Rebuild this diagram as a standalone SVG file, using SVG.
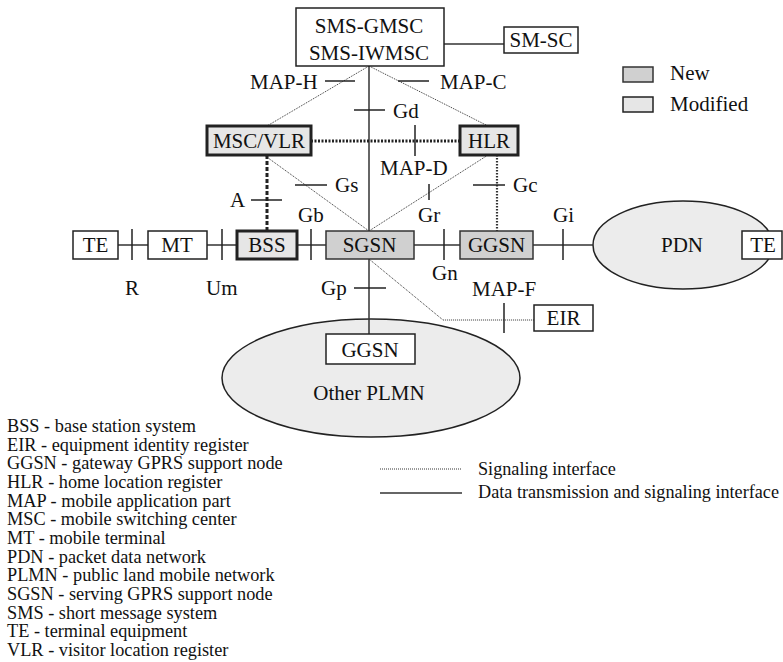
<svg xmlns="http://www.w3.org/2000/svg" width="783" height="662" viewBox="0 0 783 662" font-family="'Liberation Serif', 'Times New Roman', Times, serif">
  <style>
    text { font-family: 'Liberation Serif', 'Times New Roman', Times, serif; fill: #111; }
    .lbl { font-size: 21px; }
    .mid { text-anchor: middle; }
    .leg { font-size: 18.3px; }
    .legr { font-size: 18.2px; }
    .box { fill: #fff; stroke: #222; stroke-width: 1.5; }
    .new { fill: #d0d0d0; stroke: #333; stroke-width: 1.5; }
    .mod { fill: #e6e6e6; stroke: #222; stroke-width: 3; }
    .net { fill: #ececec; stroke: #222; stroke-width: 1.5; }
    .data { stroke: #333; stroke-width: 1.5; fill: none; }
    .sig { stroke: #333; stroke-width: 1; stroke-dasharray: 1 1; fill: none; }
    .sigb { stroke: #222; stroke-width: 3; stroke-dasharray: 2 1.5; fill: none; }
    .sigm { stroke: #333; stroke-width: 2.2; stroke-dasharray: 1.5 1.5; fill: none; }
    .dash { stroke: #222; stroke-width: 3; stroke-dasharray: 4 2; fill: none; }
    .tick { stroke: #222; stroke-width: 1.5; }
  </style>

  <!-- network clouds -->
  <g id="other-plmn">
    <ellipse class="net" cx="371" cy="378" rx="149" ry="59"/>
    <text class="lbl mid" x="369" y="400" font-family="Liberation Serif">Other PLMN</text>
  </g>
  <g id="pdn">
    <ellipse class="net" cx="683" cy="245" rx="90" ry="44"/>
    <text class="lbl mid" x="682" y="252" font-family="Liberation Serif">PDN</text>
  </g>

  <!-- interfaces -->
  <g id="connectors">
    <!-- data transmission and signaling -->
    <line class="data" x1="444" y1="44" x2="504" y2="44"/>
    <line class="data" x1="369" y1="66" x2="369" y2="231"/>
    <line class="data" x1="369" y1="259" x2="369" y2="334"/>
    <line class="data" x1="118" y1="245" x2="148" y2="245"/>
    <line class="data" x1="207" y1="245" x2="237" y2="245"/>
    <line class="data" x1="297" y1="245" x2="326" y2="245"/>
    <line class="data" x1="414" y1="245" x2="460" y2="245"/>
    <line class="data" x1="533" y1="245" x2="593" y2="245"/>
    <!-- signaling only -->
    <line class="sig" x1="369" y1="66" x2="267" y2="126"/>
    <line class="sig" x1="369" y1="66" x2="488" y2="126"/>
    <line class="sig" x1="264" y1="155" x2="369" y2="231"/>
    <line class="sig" x1="369" y1="231" x2="488" y2="155"/>
    <polyline class="sig" points="369,259 443,320 534,320"/>
    <line class="sigb" x1="311" y1="141" x2="460" y2="141"/>
    <line class="dash" x1="267" y1="155" x2="267" y2="231"/>
    <line class="sigm" x1="497" y1="155" x2="497" y2="231"/>

    <!-- interface ticks -->
    <line class="tick" x1="325" y1="81" x2="355" y2="81"/>
    <line class="tick" x1="398" y1="81" x2="429" y2="81"/>
    <line class="tick" x1="354" y1="110" x2="385" y2="110"/>
    <line class="tick" x1="415" y1="125" x2="415" y2="156"/>
    <line class="tick" x1="295" y1="185" x2="327" y2="185"/>
    <line class="tick" x1="251" y1="200" x2="282" y2="200"/>
    <line class="tick" x1="429" y1="184" x2="429" y2="200"/>
    <line class="tick" x1="473" y1="185" x2="505" y2="185"/>
    <line class="tick" x1="132" y1="229" x2="132" y2="260"/>
    <line class="tick" x1="222" y1="229" x2="222" y2="260"/>
    <line class="tick" x1="311" y1="229" x2="311" y2="260"/>
    <line class="tick" x1="444" y1="229" x2="444" y2="260"/>
    <line class="tick" x1="563" y1="229" x2="563" y2="260"/>
    <line class="tick" x1="354" y1="288" x2="386" y2="288"/>
    <line class="tick" x1="504" y1="303" x2="504" y2="333"/>

    <!-- interface names -->
    <text class="lbl" x="250" y="89">MAP-H</text>
    <text class="lbl" x="440" y="89">MAP-C</text>
    <text class="lbl" x="393" y="118">Gd</text>
    <text class="lbl" x="380" y="175">MAP-D</text>
    <text class="lbl" x="335" y="192">Gs</text>
    <text class="lbl" x="513" y="192">Gc</text>
    <text class="lbl" x="230" y="207">A</text>
    <text class="lbl" x="298" y="222">Gb</text>
    <text class="lbl" x="418" y="222">Gr</text>
    <text class="lbl" x="553" y="222">Gi</text>
    <text class="lbl" x="432" y="280">Gn</text>
    <text class="lbl" x="125" y="295">R</text>
    <text class="lbl" x="206" y="295">Um</text>
    <text class="lbl" x="321" y="295">Gp</text>
    <text class="lbl" x="472" y="296">MAP-F</text>
  </g>

  <!-- network elements -->
  <g id="sms-gmsc">
    <rect class="box" x="296" y="8" width="148" height="58"/>
    <text class="lbl mid" x="369" y="33">SMS-GMSC</text>
    <text class="lbl mid" x="369" y="60">SMS-IWMSC</text>
  </g>
  <g id="sm-sc">
    <rect class="box" x="504" y="27" width="74" height="26"/>
    <text class="lbl mid" x="541" y="47">SM-SC</text>
  </g>
  <g id="msc-vlr">
    <rect class="mod" x="207" y="126" width="104" height="29"/>
    <text class="lbl mid" x="259" y="148">MSC/VLR</text>
  </g>
  <g id="hlr">
    <rect class="mod" x="460" y="126" width="58" height="29"/>
    <text class="lbl mid" x="489" y="148">HLR</text>
  </g>
  <g id="te-left">
    <rect class="box" x="73" y="231" width="45" height="28"/>
    <text class="lbl mid" x="95.5" y="252">TE</text>
  </g>
  <g id="mt">
    <rect class="box" x="148" y="231" width="59" height="28"/>
    <text class="lbl mid" x="177" y="252">MT</text>
  </g>
  <g id="bss">
    <rect class="mod" x="237" y="231" width="60" height="28"/>
    <text class="lbl mid" x="267" y="252">BSS</text>
  </g>
  <g id="sgsn">
    <rect class="new" x="326" y="231" width="88" height="28"/>
    <text class="lbl mid" x="369.5" y="252">SGSN</text>
  </g>
  <g id="ggsn">
    <rect class="new" x="460" y="231" width="73" height="28"/>
    <text class="lbl mid" x="496.5" y="252">GGSN</text>
  </g>
  <g id="te-right">
    <rect class="box" x="742" y="231" width="40" height="28"/>
    <text class="lbl mid" x="763" y="252">TE</text>
  </g>
  <g id="eir">
    <rect class="box" x="534" y="305" width="59" height="26"/>
    <text class="lbl mid" x="563.5" y="325">EIR</text>
  </g>
  <g id="ggsn-other">
    <rect class="box" x="326" y="334" width="89" height="30"/>
    <text class="lbl mid" x="370" y="357">GGSN</text>
  </g>

  <!-- key: element status -->
  <g id="key-status">
    <rect class="new" x="623" y="67" width="30" height="15"/>
    <text class="lbl" x="670" y="80">New</text>
    <rect class="mod" x="623" y="97" width="30" height="15" style="stroke-width:1.5"/>
    <text class="lbl" x="670" y="111">Modified</text>
  </g>

  <!-- key: interface types -->
  <g id="key-lines">
    <line class="sig" x1="380" y1="469" x2="462" y2="469"/>
    <text class="legr" x="478" y="475">Signaling interface</text>
    <line class="data" x1="380" y1="493" x2="462" y2="493"/>
    <text class="legr" x="478" y="498">Data transmission and signaling interface</text>
  </g>

  <!-- abbreviations -->
  <g id="abbreviations" class="leg">
    <text x="7" y="432">BSS - base station system</text>
    <text x="7" y="450.7">EIR - equipment identity register</text>
    <text x="7" y="469.3">GGSN - gateway GPRS support node</text>
    <text x="7" y="488">HLR - home location register</text>
    <text x="7" y="506.7">MAP - mobile application part</text>
    <text x="7" y="525.3">MSC - mobile switching center</text>
    <text x="7" y="544">MT - mobile terminal</text>
    <text x="7" y="562.7">PDN - packet data network</text>
    <text x="7" y="581.3">PLMN - public land mobile network</text>
    <text x="7" y="600">SGSN - serving GPRS support node</text>
    <text x="7" y="618.7">SMS - short message system</text>
    <text x="7" y="637.3">TE - terminal equipment</text>
    <text x="7" y="656">VLR - visitor location register</text>
  </g>
</svg>
